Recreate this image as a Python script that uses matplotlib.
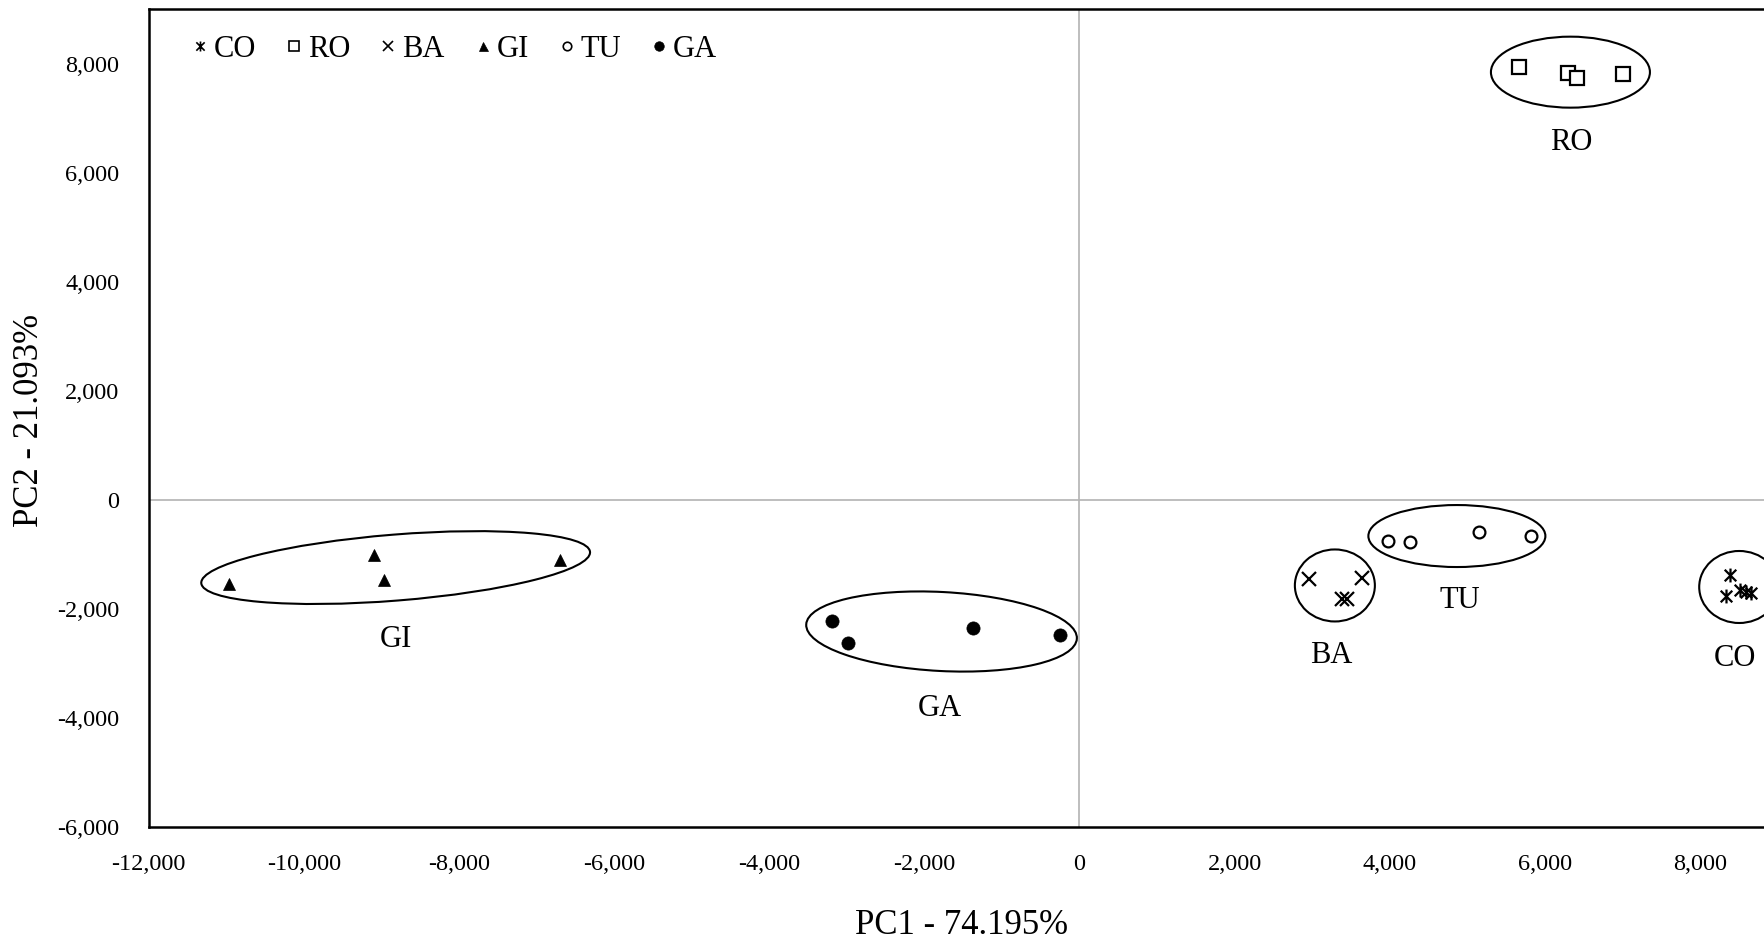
import matplotlib
matplotlib.use("Agg")
import matplotlib.pyplot as plt
from matplotlib.patches import Ellipse
from matplotlib.path import Path
from matplotlib.lines import Line2D
from matplotlib.transforms import ScaledTranslation
from matplotlib.ticker import FuncFormatter

plt.rcParams['font.family'] = ['Liberation Serif', 'DejaVu Serif']

# ---------------- data (PC1, PC2 scores) ----------------
groups = ["CO", "RO", "BA", "GI", "TU", "GA"]

co_x = [8387, 8335, 8516, 8594, 8655]
co_y = [-1379, -1765, -1655, -1684, -1702]

ro_x = [5671, 6302, 6411, 7011]
ro_y = [7944, 7834, 7742, 7805]

ba_x = [2963, 3646, 3381, 3445]
ba_y = [-1440, -1430, -1820, -1820]

gi_x = [-10960, -9092, -8971, -6694]
gi_y = [-1544, -1012, -1471, -1104]

tu_x = [3974, 4261, 5151, 5817]
tu_y = [-756, -768, -585, -664]

ga_x = [-3187, -2981, -1377, -251]
ga_y = [-2223, -2614, -2346, -2467]

x_ticks = [-12000, -10000, -8000, -6000, -4000, -2000, 0, 2000, 4000, 6000, 8000]
y_ticks = [-6000, -4000, -2000, 0, 2000, 4000, 6000, 8000]

x_label = "PC1 - 74.195%"
y_label = "PC2 - 21.093%"

# ---------------- figure ----------------
fig = plt.figure(figsize=(17.65, 9.42), dpi=100)
ax = fig.add_axes([0.0842, 0.1217, 1.051 - 0.0842, 0.9904 - 0.1217])
ax.set_xlim(-12000, 10000)
ax.set_ylim(-6000, 9000)

ax.axhline(0, color="#b3b3b3", lw=1.2, zorder=1)
ax.axvline(0, color="#b3b3b3", lw=1.2, zorder=1)

star = Path([(-1, -1), (1, 1), (-1, 1), (1, -1), (0, -1.2), (0, 1.2)],
            [Path.MOVETO, Path.LINETO, Path.MOVETO, Path.LINETO, Path.MOVETO, Path.LINETO])

styles = {
    "CO": dict(marker=star, ms=10, mfc="none", mec="black", mew=1.6),
    "RO": dict(marker="s", ms=9.5, mfc="white", mec="black", mew=1.6),
    "BA": dict(marker="x", ms=10, mfc="none", mec="black", mew=1.6),
    "GI": dict(marker="^", ms=9, mfc="black", mec="black", mew=0.5),
    "TU": dict(marker="o", ms=8.5, mfc="white", mec="black", mew=1.6),
    "GA": dict(marker="o", ms=9.5, mfc="black", mec="black", mew=0.5),
}
series = {"CO": (co_x, co_y), "RO": (ro_x, ro_y), "BA": (ba_x, ba_y),
          "GI": (gi_x, gi_y), "TU": (tu_x, tu_y), "GA": (ga_x, ga_y)}
for g in groups:
    xs, ys = series[g]
    ax.plot(xs, ys, ls="none", zorder=3, clip_on=False, **styles[g])

# group ellipses (centre in data units, size in pixels, angle on screen)
ellipses = [
    ((6331, 7843), 159, 71, 0),
    ((4867, -660), 177, 62, 0),
    ((3294, -1566), 80, 72, 0),
    ((8507, -1594), 80, 72, 0),
    ((-1777, -2410), 271, 79, -3),
    ((-8815, -1238), 390, 66, 4.6),
]
for (cx, cy), w, h, ang in ellipses:
    tr = fig.dpi_scale_trans + ScaledTranslation(cx, cy, ax.transData)
    ax.add_patch(Ellipse((0, 0), w / 100, h / 100, angle=ang, transform=tr,
                         fill=False, ec="black", lw=1.5, zorder=2))

labels = [("RO", 6337, 6558), ("TU", 4899, -1843), ("BA", 3252, -2842),
          ("CO", 8452, -2907), ("GI", -8813, -2558), ("GA", -1799, -3816)]
for t, lx, ly in labels:
    ax.text(lx, ly, t, ha="center", va="center", fontsize=22)

# axes styling
for s in ["left", "bottom", "top", "right"]:
    ax.spines[s].set_linewidth(1.8)
    ax.spines[s].set_color("black")
ax.set_xticks(x_ticks)
ax.set_yticks(y_ticks)
fmt = FuncFormatter(lambda v, p: f"{v:,.0f}".replace("\u2212", "-"))
ax.xaxis.set_major_formatter(fmt)
ax.yaxis.set_major_formatter(fmt)
ax.tick_params(axis="both", length=0, labelsize=17.5)
ax.tick_params(axis="x", pad=19)
ax.tick_params(axis="y", pad=21)

fig.text(962 / 1765, 1 - 925 / 942, x_label, ha="center", va="center", fontsize=25)
fig.text(30 / 1765, 1 - 420 / 942, y_label, ha="center", va="center", fontsize=25, rotation=90)

# legend
handles = []
for g in groups:
    st = dict(styles[g])
    st["ms"] = st["ms"] * 0.72
    st["mew"] = 1.2 if st["mfc"] != "black" else 0.5
    handles.append(Line2D([], [], ls="none", **st))
ax.legend(handles, groups, loc="upper left", bbox_to_anchor=(0.012, 0.995), ncol=6,
          frameon=False, fontsize=22, handlelength=0.6, handletextpad=0.15,
          columnspacing=0.95, borderaxespad=0.3)

fig.savefig("out.png", dpi=100)
